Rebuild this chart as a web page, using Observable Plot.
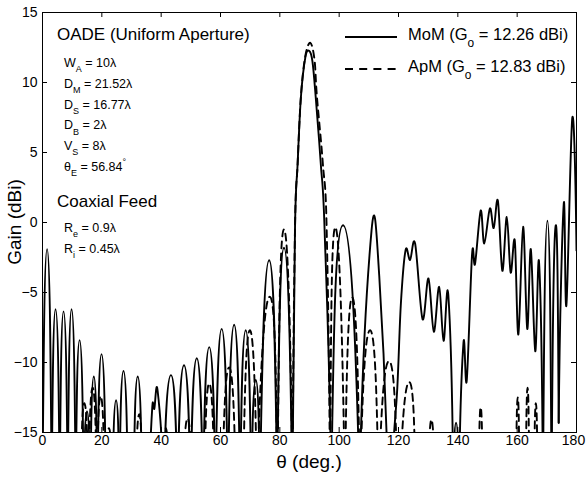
<!DOCTYPE html>
<html><head><meta charset="utf-8">
<script src="https://cdn.jsdelivr.net/npm/d3@7"></script>
<script src="https://cdn.jsdelivr.net/npm/@observablehq/plot@0.6"></script>
<style>body{margin:0;background:#fff} svg{display:block}</style>
</head><body><div id="chart"></div>
<script>
const N = -19; // estimated depth of nulls that fall below the visible range

const momTheta = [0,1.55,3.1,4.4,5.8,7.1,8.5,9.8,11.2,12.5,13.9,15.0,16.1,17.3,18.5,19.9,21.4,23.6,24.8,25.9,27.3,28.8,30.7,32.1,33.6,36.0,37.0,37.7,38.8,40.8,43.3,45.5,47.7,49.9,52.0,54.1,56.2,58.3,60.4,62.5,64.6,66.6,68.5,70.4,71.9,73.3,76.4,79.1,81.4,84.2,85.1,86.0,87.1,88.6,89.9,91.0,92.1,93.8,95.1,97.3,101.3,106.9,110.9,113.4,116.4,117.6,119.6,120.8,122.4,123.9,125.6,128.1,130.1,131.9,133.7,135.2,136.8,138.5,139.4,140.4,141.9,143.0,144.8,145.8,147.7,148.9,150.8,152.1,153.5,155.0,156.5,157.8,159.2,160.4,162.0,163.4,164.6,166.1,167.4,168.7,170.2,171.6,172.9,174.0,175.7,176.6,178.6,180];
const momGain = [N,-1.9,N,-6.2,N,-6.35,N,-6.2,N,-8.4,N,-13.5,N,-11.0,N,-9.4,N,N,-12.7,N,-10.6,N,N,-11.0,N,N,-13.2,-13.3,-12.0,N,-10.9,N,-10.2,N,-9.7,N,-8.9,N,-7.6,N,-7.3,N,-7.7,N,-11.25,N,-2.7,N,-1.8,N,-0.6,4.2,8.95,11.8,12.26,11.5,8.95,4.2,-0.6,N,-0.2,N,-0.6,-3.45,N,N,-11.8,-5.8,-1.96,-2.67,-1.5,-6.9,-4.0,-7.8,-4.6,-8.45,-5.2,N,-14.3,N,-8.6,-11.3,-2.25,-2.96,0.85,-1.5,1.0,-0.4,1.56,-3.45,0.4,-3.57,-1.3,-8.0,-0.3,-7.6,-1.9,-9.2,-2.9,N,0.13,N,-0.35,-14.3,1.33,-5.9,7.5,-2];

const apmTheta = [12.9,14.1,15.5,16.9,18.3,19.6,21.0,22.4,23.3,31.4,32.6,33.7,40.7,41.6,42.5,47.4,48.9,50.4,54.5,56.2,58.0,60.6,62.9,65.2,67.6,69.9,72.3,76.6,79.2,81.4,84.3,85.1,86.0,87.1,88.6,90.3,91.7,92.5,94.5,95.8,96.9,98.7,101.9,104.4,107.0,110.4,113.3,116.8,119.7,120.4,123.6,125.8,130.0,131.1,132.2,147.0,147.7,148.4,159.6,160.2,160.8,162.9,163.5,164.1,165.7,166.3,166.9];
const apmGain = [N,-12.9,N,-11.8,N,-12.4,N,-14.7,N,N,-13.7,N,N,-14.7,N,N,-14.0,N,N,-11.5,N,N,-10.35,N,N,-7.7,N,-5.3,N,-0.5,N,-0.6,4.2,9.0,11.9,12.83,11.6,9.0,4.2,-0.6,N,-0.35,N,-5.35,N,-7.7,N,-9.9,N,N,-11.4,N,N,-14.1,N,N,-13.2,N,N,-12.5,N,N,-11.8,N,N,-12.9,N];

const xTicks = [0,20,40,60,80,100,120,140,160,180];
const yTicks = [-15,-10,-5,0,5,10,15];

const seriesNames = ["MoM","ApM"];
const seriesGo = ["12.26","12.83"];
const seriesDash = [null,"7,5"];

const titleTop = "OADE (Uniform Aperture)";
const paramBase = ["W","D","D","D","V","θ"];
const paramSub  = ["A","M","S","B","S","E"];
const paramVal  = [" = 10λ"," = 21.52λ"," = 16.77λ"," = 2λ"," = 8λ"," = 56.84"];
const titleFeed = "Coaxial Feed";
const feedBase = ["R","R"];
const feedSub  = ["e","i"];
const feedVal  = [" = 0.9λ"," = 0.45λ"];

const W = 586, H = 479, mL = 42, mR = 10, mT = 12, mB = 47;
const fw = W - mL - mR, fh = H - mT - mB, tick = 5;
const FONT = "'Liberation Sans', Arial, Helvetica, sans-serif";

// split into arches at deep nulls so that nulls render as sharp notches
function build(xs, ys) {
  const out = []; let seg = 0;
  xs.forEach((x, i) => {
    const y = ys[i];
    out.push({theta: x, gain: y, seg});
    const deepMin = i > 0 && i < xs.length - 1 && y < -14 && y <= ys[i-1] && y <= ys[i+1];
    if (deepMin) { seg++; out.push({theta: x, gain: y, seg}); }
  });
  return out;
}
const mom = build(momTheta, momGain);
const apm = build(apmTheta, apmGain);

// Hermite curve: steep legs at segment ends (nulls), rounded lobe tops
function archCurve(context) {
  let pts;
  return {
    areaStart() {}, areaEnd() {},
    lineStart() { pts = []; },
    point(x, y) { pts.push([+x, +y]); },
    lineEnd() {
      const n = pts.length;
      if (!n) return;
      context.moveTo(pts[0][0], pts[0][1]);
      if (n === 1) return;
      if (n === 2) { context.lineTo(pts[1][0], pts[1][1]); return; }
      const c = n === 3 ? 0.9 : 0.5;
      const m = pts.map((p, i) => {
        if (i === 0) return [0.6 * (pts[1][0] - p[0]), 1.5 * (pts[1][1] - p[1])];
        if (i === n - 1) return [0.6 * (p[0] - pts[n-2][0]), 1.5 * (p[1] - pts[n-2][1])];
        return [c * (pts[i+1][0] - pts[i-1][0]), c * (pts[i+1][1] - pts[i-1][1])];
      });
      for (let i = 0; i < n - 1; i++) {
        const a = pts[i], b = pts[i+1];
        context.bezierCurveTo(a[0] + m[i][0]/3, a[1] + m[i][1]/3, b[0] - m[i+1][0]/3, b[1] - m[i+1][1]/3, b[0], b[1]);
      }
    }
  };
}

const lineOpts = {x: "theta", y: "gain", z: "seg", curve: archCurve, clip: true, stroke: "black", strokeWidth: 1.9};
const axisOpts = {tickSize: 0, tickPadding: 3, fontSize: 14, label: null, tickFormat: d3.format("d")};

const chart = Plot.plot({
  width: W, height: H,
  marginLeft: mL, marginRight: mR, marginTop: mT, marginBottom: mB,
  style: {fontFamily: FONT, background: "white", color: "black"},
  x: {domain: [0, 180]},
  y: {domain: [-15, 15]},
  marks: [
    Plot.line(mom, lineOpts),
    Plot.line(apm, {...lineOpts, strokeDasharray: seriesDash[1]}),
    Plot.ruleX(xTicks, {x: d => d, insetTop: fh - tick, stroke: "black"}),
    Plot.ruleX(xTicks, {x: d => d, insetBottom: fh - tick, stroke: "black"}),
    Plot.ruleY(yTicks, {y: d => d, insetRight: fw - tick, stroke: "black"}),
    Plot.ruleY(yTicks, {y: d => d, insetLeft: fw - tick, stroke: "black"}),
    Plot.axisX({...axisOpts, ticks: xTicks.slice(0, -1)}),
    Plot.axisX({...axisOpts, ticks: xTicks.slice(-1), dx: -3}),
    Plot.axisY({...axisOpts, ticks: yTicks, tickPadding: 5}),
    Plot.frame({stroke: "black", strokeWidth: 1})
  ]
});
document.getElementById("chart").appendChild(chart);

const svg = d3.select(chart);
const g = svg.append("g").attr("font-family", FONT).attr("fill", "black");
function rich(x, y, size, parts, anchor) {
  const t = g.append("text").attr("x", x).attr("y", y).attr("font-size", size).attr("text-anchor", anchor || "start");
  let off = 0;
  parts.forEach(([s, kind]) => {
    const target = kind === "sub" ? size * 0.42 : kind === "sup" ? -size * 0.45 : 0;
    const ts = t.append("tspan").attr("dy", target - off).text(s);
    if (kind) ts.attr("font-size", size * 0.72);
    off = target;
  });
  return t;
}

rich(57, 40, 17, [[titleTop]]);
paramBase.forEach((b, i) => {
  const parts = [[b], [paramSub[i], "sub"], [paramVal[i]]];
  if (i === paramBase.length - 1) parts.push(["°", "sup"]);
  rich(64, 67 + i * 20.8, 12.5, parts);
});
rich(57, 207, 17, [[titleFeed]]);
feedBase.forEach((b, i) => rich(64, 232 + i * 21, 12.5, [[b], [feedSub[i], "sub"], [feedVal[i]]]));

// legend
seriesNames.forEach((n, i) => {
  const ly = 37 + i * 32;
  const l = g.append("line").attr("x1", 345).attr("x2", 397).attr("y1", ly).attr("y2", ly)
    .attr("stroke", "black").attr("stroke-width", 2);
  if (seriesDash[i]) l.attr("stroke-dasharray", "8,6.2");
  rich(408, ly + 3, 16.5, [[n + " (G"], ["o", "sub"], [" = " + seriesGo[i] + " dBi)"]]);
});

// axis labels
rich(mL + fw / 2, 468, 19, [["θ (deg.)"]], "middle");
g.append("text").attr("transform", `translate(21,${mT + fh / 2}) rotate(-90)`)
  .attr("text-anchor", "middle").attr("font-size", 19).text("Gain (dBi)");
</script></body></html>
